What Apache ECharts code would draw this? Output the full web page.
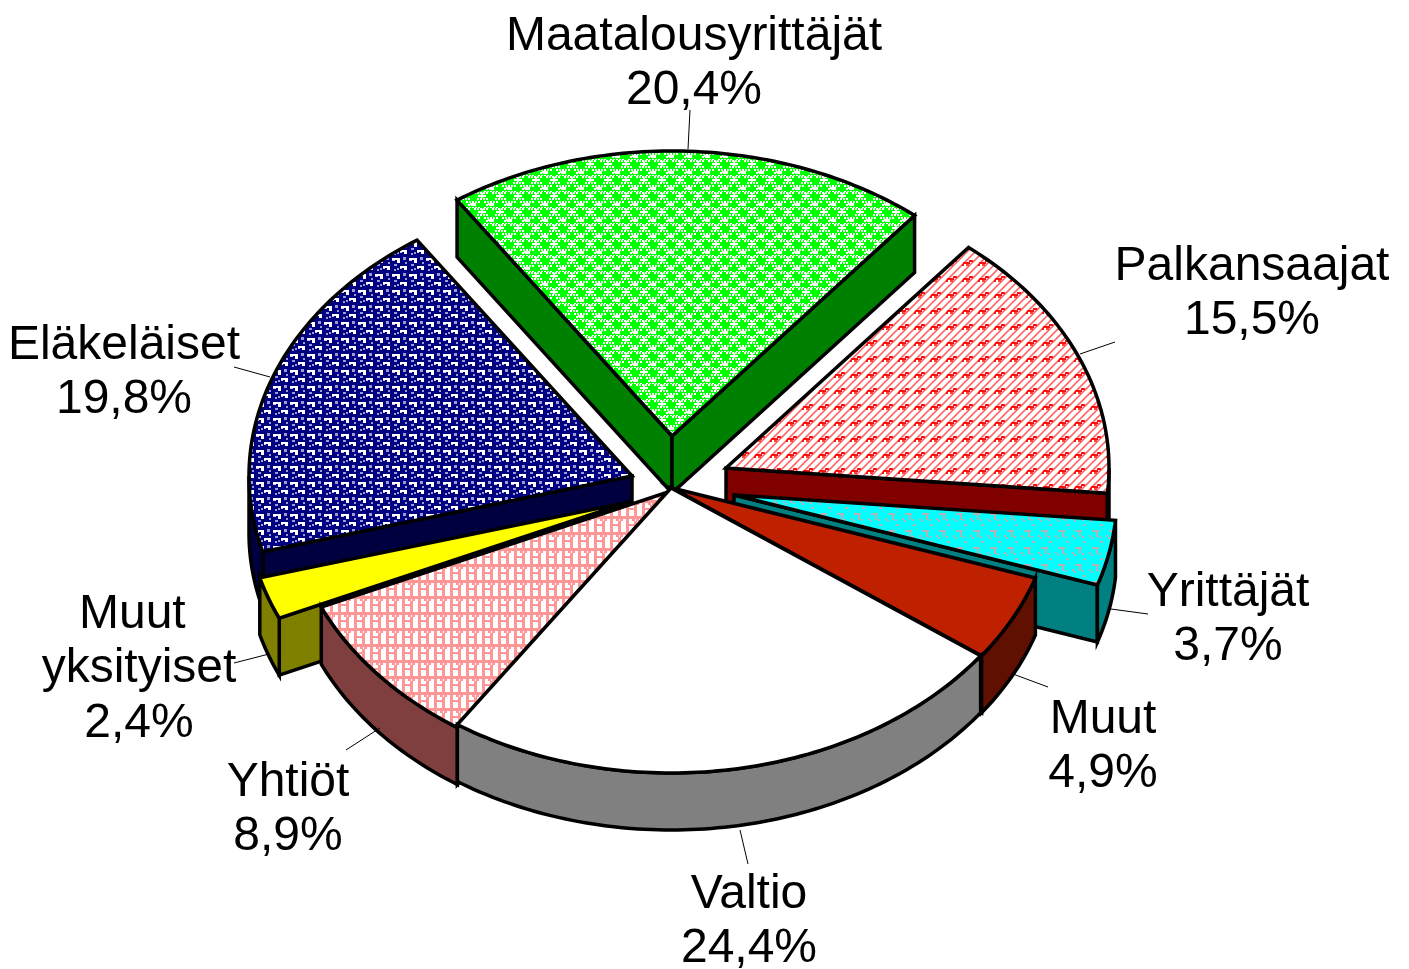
<!DOCTYPE html>
<html>
<head>
<meta charset="utf-8">
<script src="https://cdn.jsdelivr.net/npm/echarts@6/dist/echarts.min.js"></script>
<style>
  html, body { margin: 0; padding: 0; background: #fff; }
  #main { width: 1409px; height: 969px; }
</style>
</head>
<body>
<div id="main"></div>
<script>
// chart data, clockwise from the first slice
const categories = ['Palkansaajat', 'Yrittäjät', 'Muut', 'Valtio', 'Yhtiöt', 'Muut \nyksityiset', 'Eläkeläiset', 'Maatalousyrittäjät'];
const shares = [15.5, 3.7, 4.9, 24.4, 8.9, 2.4, 19.8, 20.4];

// look of each slice
const wallColors = ['#800000', '#008080', '#5f1000', '#808080', '#803f3f', '#808000', '#000040', '#008000'];
const explodeX = [55, 63, 1, 0, 0, -42, -39, 1];
const explodeY = [-20, 7, 0, 0, 3, 14, -12, -52];
const paintOrder = [7, 0, 6, 1, 5, 2, 4, 3];

// label centres and the leader lines
const labelX = [1252, 1228, 1103, 749, 288, 139, 124, 694];
const labelY = [294, 620, 747, 922, 810, 669, 373, 64];
const leaders = [
  [1080, 354, 1115, 342], [1111, 609, 1148, 614], [1013, 674, 1048, 687], [740, 830, 748, 864],
  [380, 728, 346, 750], [269, 654, 234, 663], [270, 377, 234, 367], [688, 149, 690, 110]
];

const cx = 671, cy = 488, rx = 383, ry = 285, depth = 57, startAngle = 39.3;

function tile(w, h, draw) {
  const c = document.createElement('canvas');
  c.width = w; c.height = h;
  const ctx = c.getContext('2d');
  draw((color, x, y, rw, rh) => { ctx.fillStyle = color; ctx.fillRect(x, y, rw, rh); });
  return { image: c, repeat: 'repeat' };
}

const redTile = tile(16, 16, px => {
  px('#fff', 0, 0, 16, 16);
  for (let y = 0; y < 16; y++) for (let x = 0; x < 16; x++) {
    const s = (x + y) % 8;
    if (s === 1 || s === 3) px('#ff9c9c', x, y, 1, 1);
    if (s === 2) px('#ff6060', x, y, 1, 1);
  }
  px('#ff1010', 3, 6, 7, 2); px('#ff1010', 2, 8, 2, 2); px('#ff1010', 9, 4, 4, 2); px('#ff4040', 6, 8, 3, 2);
});
const cyanTile = tile(17, 17, px => {
  px('#00ffff', 0, 0, 17, 17);
  px('#b4b4b4', 4, 3, 7, 2); px('#b4b4b4', 8, 5, 2, 5); px('#b4b4b4', 11, 9, 2, 2);
  px('#b4b4b4', 1, 8, 2, 2); px('#b4b4b4', 3, 10, 2, 2); px('#b4b4b4', 12, 14, 3, 2); px('#b4b4b4', 15, 1, 1, 1);
});
const pinkTile = tile(16, 16, px => {
  px('#fff', 0, 0, 16, 16);
  px('#ff9696', 2, 0, 3, 16); px('#ff9696', 0, 4, 16, 3); px('#ff9696', 10, 0, 3, 4);
  px('#ff9696', 10, 9, 3, 7); px('#ff9696', 8, 7, 3, 2); px('#ff9696', 12, 7, 3, 2);
  px('#ff9696', 5, 12, 5, 2);
});
const navyTile = tile(17, 16, px => {
  px('#000080', 0, 0, 17, 16);
  px('#fff', 1, 2, 8, 2); px('#fff', 6, 4, 3, 3); px('#c8c8ec', 1, 4, 3, 1);
  px('#9a9ad8', 12, 1, 3, 3); px('#9a9ad8', 14, 6, 2, 2); px('#9a9ad8', 3, 8, 3, 2);
  px('#fff', 9, 10, 7, 2); px('#fff', 13, 12, 3, 2); px('#c8c8ec', 9, 12, 2, 1);
  px('#9a9ad8', 3, 13, 2, 2); px('#9a9ad8', 6, 12, 2, 2);
});
const greenTile = tile(18, 16, px => {
  px('#00ff00', 0, 0, 18, 16);
  // white dot lattice between the solid diamonds
  for (let y = 0; y < 16; y += 3) for (let x = (y % 2 ? 1 : 0); x < 18; x += 3) {
    const inA = Math.abs(x - 4) + Math.abs(y - 4) < 6;
    const inB = Math.abs(x - 13) + Math.abs(y - 12) < 6;
    if (!inA && !inB) px('#fff', x, y, 2, 2);
  }
  px('#fff', 13, 1, 2, 5); px('#fff', 11, 3, 6, 2);
  px('#fff', 4, 9, 2, 5); px('#fff', 2, 11, 6, 2);
});
const topFills = [redTile, cyanTile, '#bf2000', '#ffffff', pinkTile, '#ffff00', navyTile, greenTile];

const sliceStart = [];
shares.reduce((acc, v, i) => { sliceStart[i] = acc; return acc + v * 3.6; }, startAngle);

const rad = d => d * Math.PI / 180;
const rimPoint = (ox, oy, a, drop) => [ox + rx * Math.sin(rad(a)), oy - ry * Math.cos(rad(a)) + drop];

function arc(ox, oy, a0, a1, drop) {
  const pts = [];
  const n = Math.max(2, Math.ceil(Math.abs(a1 - a0)));
  for (let k = 0; k <= n; k++) pts.push(rimPoint(ox, oy, a0 + (a1 - a0) * k / n, drop));
  return pts;
}

function face(points, fill) {
  return {
    type: 'polygon',
    shape: { points: points },
    style: { fill: fill, stroke: '#000', lineWidth: 3.5, lineJoin: 'miter' },
    silent: true
  };
}

function renderSlice(params, api) {
  const i = api.value(0);
  const a0 = sliceStart[i];
  const a1 = a0 + api.value(1) * 3.6;
  const ox = cx + explodeX[i], oy = cy + explodeY[i];
  const children = [];

  // side walls first, only the ones that face the viewer
  const radialWall = a => {
    const rim = rimPoint(ox, oy, a, 0);
    return face([[ox, oy], rim, [rim[0], rim[1] + depth], [ox, oy + depth]], wallColors[i]);
  };
  if (Math.sin(rad(a0)) < 0) children.push(radialWall(a0));
  if (Math.sin(rad(a1)) > 0) children.push(radialWall(a1));

  // rim wall is visible on the front half only
  const from = Math.max(a0, 90), to = Math.min(a1, 270);
  if (to > from) children.push(face(arc(ox, oy, from, to, 0).concat(arc(ox, oy, to, from, depth)), wallColors[i]));

  children.push(face([[ox, oy]].concat(arc(ox, oy, a0, a1, 0)), topFills[i]));
  return { type: 'group', children: children };
}

function renderLabel(params, api) {
  const i = api.value(0);
  const seg = leaders[i];
  return {
    type: 'group',
    children: [
      {
        type: 'line',
        shape: { x1: seg[0], y1: seg[1], x2: seg[2], y2: seg[3] },
        style: { stroke: '#000', lineWidth: 1 },
        silent: true
      },
      {
        type: 'text',
        style: {
          text: categories[i] + '\n' + api.value(1).toFixed(1).replace('.', ',') + '%',
          x: labelX[i],
          y: labelY[i],
          align: 'center',
          verticalAlign: 'middle',
          fill: '#000',
          font: '48px "Liberation Sans"',
          lineHeight: 54.5
        },
        silent: true
      }
    ]
  };
}

const myChart = echarts.init(document.getElementById('main'), null, { renderer: 'canvas' });
myChart.setOption({
  animation: false,
  backgroundColor: '#fff',
  series: [
    {
      type: 'custom',
      coordinateSystem: 'none',
      renderItem: renderSlice,
      data: paintOrder.map(i => [i, shares[i]]),
      z: 2
    },
    {
      type: 'custom',
      coordinateSystem: 'none',
      renderItem: renderLabel,
      data: shares.map((v, i) => [i, v]),
      z: 3
    }
  ]
});
</script>
</body>
</html>
